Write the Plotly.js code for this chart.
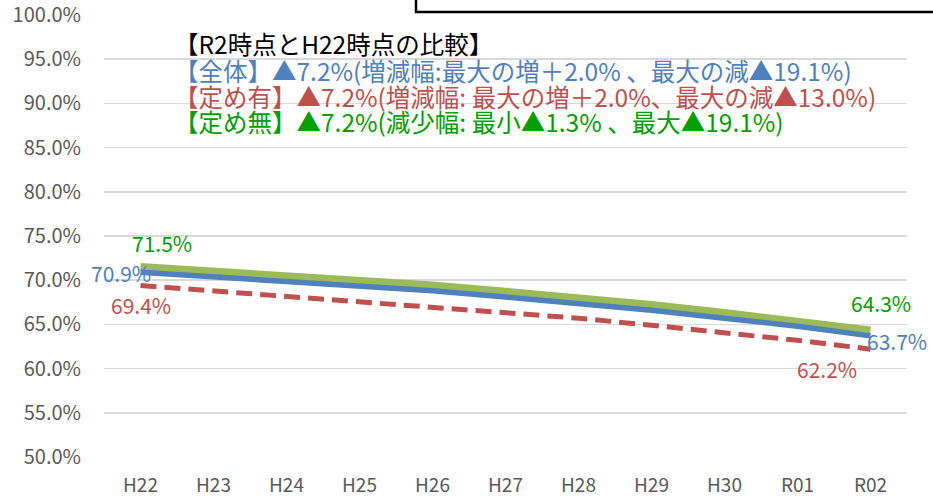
<!DOCTYPE html>
<html><head><meta charset="utf-8">
<script src="https://cdn.plot.ly/plotly-3.0.1.min.js"></script>
<style>html,body{margin:0;padding:0;background:#fff}#c{width:933px;height:499px}</style>
</head><body><div id="c"></div>
<script>
const categories = ["H22","H23","H24","H25","H26","H27","H28","H29","H30","R01","R02"];
const zentai = [70.9, 70.4, 69.9, 69.4, 68.8, 68.1, 67.4, 66.6, 65.7, 64.8, 63.7];
const sadameAri = [69.4, 68.8, 68.2, 67.6, 66.9, 66.3, 65.7, 64.9, 64.1, 63.2, 62.2];
const sadameNashi = [71.5, 71.0, 70.5, 70.0, 69.4, 68.7, 68.0, 67.2, 66.3, 65.4, 64.3];
const yTicks = [50,55,60,65,70,75,80,85,90,95,100];
const noteLines = [
  "【R2時点とH22時点の比較】",
  "【全体】▲7.2%(増減幅:最大の増＋2.0% 、最大の減▲19.1%)",
  "【定め有】▲7.2%(増減幅: 最大の増＋2.0%、最大の減▲13.0%)",
  "【定め無】▲7.2%(減少幅: 最小▲1.3% 、最大▲19.1%)"
];

const cBlue = "#4F81BD", cRed = "#C0504D", cGreen = "#9BBB59", cGreenTxt = "#00A000";
const font = "'Noto Sans CJK JP', 'Noto Sans', sans-serif";
const last = categories.length - 1;

const traces = [
  {x: categories, y: sadameNashi, type: "scatter", mode: "lines", line: {color: cGreen, width: 8}, hoverinfo: "skip"},
  {x: categories, y: zentai, type: "scatter", mode: "lines", line: {color: cBlue, width: 5.5}, hoverinfo: "skip"},
  {x: categories, y: sadameAri, type: "scatter", mode: "lines", line: {color: cRed, width: 5, dash: "16px,8px"}, hoverinfo: "skip"}
];

function lab(i, arr, color, xshift, yshift) {
  return {x: categories[i], y: arr[i], xref: "x", yref: "y", text: arr[i].toFixed(1) + "%",
    showarrow: false, xshift: xshift, yshift: yshift, font: {family: font, size: 21, color: color}};
}
const ann = [
  lab(0, sadameNashi, cGreenTxt, 21, 24),
  lab(0, zentai, cBlue, -20, -1),
  lab(0, sadameAri, cRed, 0, -19),
  lab(last, sadameNashi, cGreenTxt, 10, 28),
  lab(last, zentai, cBlue, 26, -5),
  lab(last, sadameAri, cRed, -44, -20)
];
const noteColors = ["#000000", cBlue, cRed, cGreenTxt];
const noteY = [43, 70, 96, 121];
noteLines.forEach((t, i) => {
  ann.push({x: (172 - 104) / 803, y: (457 - noteY[i]) / 442, xref: "paper", yref: "paper",
    xanchor: "left", yanchor: "middle", text: t, showarrow: false,
    font: {family: font, size: 24.5, color: noteColors[i]}});
});

const layout = {
  width: 933, height: 499,
  margin: {l: 104, r: 26, t: 15, b: 42},
  paper_bgcolor: "#fff", plot_bgcolor: "#fff",
  showlegend: false,
  font: {family: font},
  xaxis: {type: "category", range: [-0.5, categories.length - 0.5], automargin: false,
    showgrid: false, zeroline: false, showline: false, ticks: "",
    tickfont: {family: font, size: 19, color: "#595959"}, ticklabelstandoff: 15, fixedrange: true},
  yaxis: {range: [50, 100], automargin: false, tickvals: yTicks, ticktext: yTicks.map(v => v.toFixed(1) + "%"),
    showgrid: true, gridcolor: "#D9D9D9", gridwidth: 1.5, zeroline: false, showline: false, ticks: "",
    ticklabeloverflow: "allow",
    tickfont: {family: font, size: 20, color: "#595959"}, ticklabelstandoff: 22, fixedrange: true},
  annotations: ann,
  shapes: [
    {type: "rect", xref: "paper", yref: "paper", x0: (416 - 104) / 803, x1: (945 - 104) / 803,
      y0: (457 - 12) / 442, y1: (457 + 20) / 442, line: {color: "#000", width: 2.5}, fillcolor: "rgba(0,0,0,0)"}
  ]
};
Plotly.newPlot("c", traces, layout, {displayModeBar: false, staticPlot: true});
</script></body></html>
